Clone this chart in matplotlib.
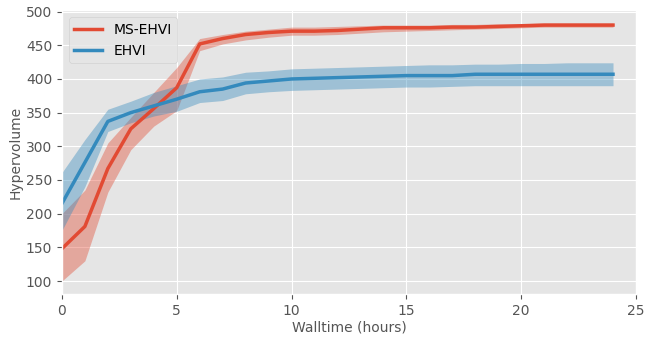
import matplotlib
matplotlib.use("Agg")
import matplotlib.pyplot as plt

plt.style.use("ggplot")

hours = list(range(25))

# MS-EHVI mean and band
ms_mean = [148, 181, 267, 326, 356, 387, 452, 460, 466, 469, 471, 471, 472, 474, 476,
           476, 476, 477, 477, 478, 479, 480, 480, 480, 480]
ms_low = [100, 130, 232, 295, 330, 353, 442, 452, 458, 462, 465, 465, 466, 468, 470,
          471, 472, 473, 474, 475, 476, 477, 477, 477, 477]
ms_high = [200, 235, 305, 343, 380, 417, 460, 466, 471, 474, 477, 477, 478, 479, 480,
           480, 480, 481, 481, 482, 482, 483, 483, 483, 483]

# EHVI mean and band
ehvi_mean = [215, 276, 337, 350, 360, 370, 381, 385, 394, 397, 400, 401, 402, 403, 404,
             405, 405, 405, 407, 407, 407, 407, 407, 407, 407]
ehvi_low = [175, 240, 322, 335, 345, 352, 365, 368, 378, 381, 383, 384, 385, 386, 387,
            388, 388, 389, 390, 390, 390, 390, 390, 390, 390]
ehvi_high = [261, 310, 355, 367, 380, 390, 400, 403, 410, 412, 415, 416, 417, 418, 419,
             420, 421, 421, 422, 422, 423, 423, 424, 424, 424]

fig = plt.figure(figsize=(6.45, 3.39), dpi=100)
ax = fig.add_axes([0.096, 0.133, 0.890, 0.837])

red = "#E24A33"
blue = "#348ABD"

ax.fill_between(hours, ms_low, ms_high, color=red, alpha=0.4, linewidth=0)
ax.plot(hours, ms_mean, color=red, linewidth=2.5, label="MS-EHVI")
ax.fill_between(hours, ehvi_low, ehvi_high, color=blue, alpha=0.4, linewidth=0)
ax.plot(hours, ehvi_mean, color=blue, linewidth=2.5, label="EHVI")

ax.set_xlim(0, 25)
ax.set_yticks([100, 150, 200, 250, 300, 350, 400, 450, 500])
ax.set_xlabel("Walltime (hours)", fontsize=10, color="#555555", labelpad=2)
ax.set_ylabel("Hypervolume", fontsize=10, color="#555555", labelpad=2)
ax.tick_params(labelsize=10)

ax.legend(loc="upper left", fontsize=10, frameon=True)

fig.savefig("out.png", dpi=100)
